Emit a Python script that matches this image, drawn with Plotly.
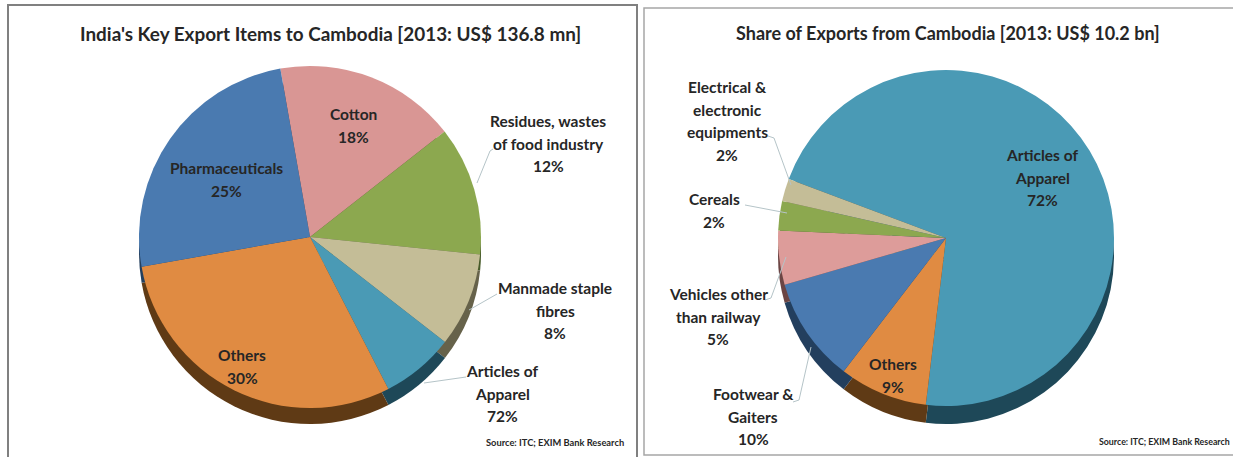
import plotly.graph_objects as go

W, H = 1233, 457

# --- data ---
left_title = "India's Key Export Items to Cambodia [2013: US$ 136.8 mn]"
left_items = ["Cotton", "Residues, wastes of food industry", "Manmade staple fibres",
              "Articles of Apparel", "Others", "Pharmaceuticals"]
left_values = [17.2, 12.2, 8.9, 6.9, 29.8, 25]
left_colors = ["#D99694", "#8CA84F", "#C4BD97", "#4A9AB5", "#E08B42", "#4A7AB0"]
left_dark = ["#6b4544", "#465a28", "#66624a", "#1E4858", "#5F3A15", "#233f5e"]

right_title = "Share of Exports from Cambodia [2013: US$ 10.2 bn]"
right_items = ["Articles of Apparel", "Others", "Footwear & Gaiters",
               "Vehicles other than railway", "Cereals", "Electrical & electronic equipments"]
right_values = [71.2, 8.5, 10.1, 5.2, 2.8, 2.2]
right_colors = ["#4A9AB5", "#E08B42", "#4A7AB0", "#DD9C9A", "#8CA84F", "#C4BD97"]
right_dark = ["#1E4858", "#5F3A15", "#233f5e", "#6b4544", "#465a28", "#66624a"]

source_text = "Source: ITC; EXIM Bank Research"

# printed labels: (lines, centre x, first-line y)
left_labels = [(["Cotton", "18%"], 353, 114),
               (["Pharmaceuticals", "25%"], 226, 168),
               (["Others", "30%"], 242, 355),
               (["Residues, wastes", "of food industry", "12%"], 548, 121),
               (["Manmade staple", "fibres", "8%"], 555, 288),
               (["Articles of", "Apparel", "72%"], 502, 371)]
right_labels = [(["Electrical &", "electronic", "equipments", "2%"], 727, 87),
                (["Cereals", "2%"], 714, 199),
                (["Vehicles other", "than railway", "5%"], 718, 294),
                (["Footwear &", "Gaiters", "10%"], 753, 394),
                (["Articles of", "Apparel", "72%"], 1042, 155),
                (["Others", "9%"], 893, 364)]

leaders = [[(477, 183), (490, 151), (493, 149)],
           [(469, 310), (497, 294)],
           [(424, 383), (466, 377)],
           [(791, 185), (774, 138), (768, 136)],
           [(787, 213), (745, 205)],
           [(786, 257), (771, 298), (765, 300)],
           [(811, 347), (799, 400), (793, 402)]]

# --- layout helpers ---
def px(x): return x / W
def py(y): return 1 - y / H

def pie(values, items, colors, rot, cx, cy, r):
    return go.Pie(values=values, labels=items, sort=False, direction="clockwise", rotation=rot,
                  marker=dict(colors=colors, line=dict(width=0)),
                  textinfo="none", hoverinfo="label+percent", showlegend=False,
                  domain=dict(x=[px(cx - r), px(cx + r)], y=[py(cy + r), py(cy - r)]))

FONT = "Lato"
fig = go.Figure()
fig.add_trace(pie(left_values, left_items, left_dark, 350, 310, 237 + 16, 171))
fig.add_trace(pie(left_values, left_items, left_colors, 350, 310, 237, 171))
fig.add_trace(pie(right_values, right_items, right_dark, 290.6, 946, 238 + 18, 168))
fig.add_trace(pie(right_values, right_items, right_colors, 290.6, 946, 238, 168))

ann = []
def text(s, x, y, size):
    ann.append(dict(text=f"<b>{s}</b>", x=px(x), y=py(y),
                    xref="paper", yref="paper", xanchor="center", yanchor="middle",
                    showarrow=False, font=dict(family=FONT, size=size, color="#262626")))

text(left_title, 330, 33, 18.9)
text(right_title, 948, 33, 18)
for lines, x, y in left_labels + right_labels:
    for i, s in enumerate(lines):
        text(s, x, y + i * 22.7, 15.5)
text(source_text, 555, 442, 9.3)
text(source_text, 1164, 441, 8.8)

shapes = [
    dict(type="rect", xref="paper", yref="paper", x0=px(8), x1=px(637), y0=py(470), y1=py(5),
         line=dict(color="#808080", width=2), fillcolor="white", layer="below"),
    dict(type="rect", xref="paper", yref="paper", x0=px(644), x1=px(1240), y0=py(455), y1=py(8),
         line=dict(color="#a6a6a6", width=1.5), fillcolor="white", layer="below"),
]
for pts in leaders:
    path = "M " + " L ".join(f"{px(a)},{py(b)}" for a, b in pts)
    shapes.append(dict(type="path", path=path, xref="paper", yref="paper",
                       line=dict(color="#b5c4c8", width=1)))

fig.update_layout(width=W, height=H, margin=dict(l=0, r=0, t=0, b=0),
                  paper_bgcolor="white", plot_bgcolor="white",
                  annotations=ann, shapes=shapes, showlegend=False)
fig.write_html("out.html", config={"displayModeBar": False},
               post_script="document.body.style.margin='0';document.body.style.overflow='hidden';")
